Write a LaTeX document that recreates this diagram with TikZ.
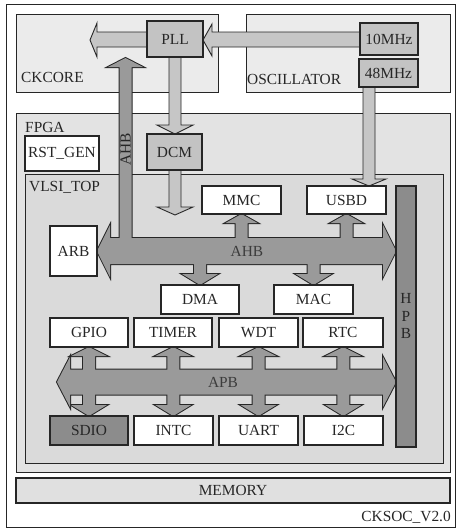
\documentclass[tikz,border=0pt]{standalone}
\usepackage{fontspec}
\setmainfont{Liberation Serif}
\definecolor{linec}{HTML}{262626}
\definecolor{textc}{HTML}{262626}
\definecolor{ckfill}{HTML}{EBEBEB}
\definecolor{fpgafill}{HTML}{E3E3E3}
\definecolor{vlsifill}{HTML}{DADADA}
\definecolor{memfill}{HTML}{E0E0E0}
\definecolor{midgray}{HTML}{C3C3C3}
\definecolor{arrowgray}{HTML}{C6C6C6}
\definecolor{busgray}{HTML}{9A9A9A}
\definecolor{darkbox}{HTML}{8C8C8C}
\newcommand\bx[7]{\node[#2, minimum width={(#5)-(#3)}, minimum height={(#6)-(#4)}] (#1) at ({((#3)+(#5))/2},{((#4)+(#6))/2}) {#7};}
\newcommand\ahbshape[1]{%
  \path[#1] (97,251) -- (110,225) -- (110,238) -- (383,238) -- (383,225) -- (396,251) -- (383,277) -- (383,264) -- (110,264) -- (110,277) -- cycle;
  \path[#1] (125.5,58) -- (143,67) -- (131.5,67) -- (131.5,251) -- (119.5,251) -- (119.5,67) -- (108,67) -- cycle;
  \foreach \c in {241.5,346.5}{%
    \path[#1] (\c,214) -- ({\c+16},223) -- ({\c+6},223) -- ({\c+6},251) -- ({\c-6},251) -- ({\c-6},223) -- ({\c-16},223) -- cycle;}
  \foreach \c in {200,313.5}{%
    \path[#1] (\c,285) -- ({\c+18},274) -- ({\c+6},274) -- ({\c+6},251) -- ({\c-6},251) -- ({\c-6},274) -- ({\c-18},274) -- cycle;}
}
\newcommand\apbshape[1]{%
  \path[#1] (57,382) -- (70,357) -- (70,369.5) -- (383,369.5) -- (383,357) -- (396,382) -- (383,407) -- (383,394.5) -- (70,394.5) -- (70,407) -- cycle;
  \foreach \c in {89,173.25,258.5,343.25}{%
    \path[#1] (\c,347) -- ({\c+18},356) -- ({\c+6},356) -- ({\c+6},382) -- ({\c-6},382) -- ({\c-6},356) -- ({\c-18},356) -- cycle;
    \path[#1] (\c,416) -- ({\c+18},405) -- ({\c+6},405) -- ({\c+6},382) -- ({\c-6},382) -- ({\c-6},405) -- ({\c-18},405) -- cycle;}
}
\begin{document}
\begin{tikzpicture}[x=1pt,y=-1pt,
  every node/.style={font=\fontsize{15.4}{18}\selectfont, text=textc},
  cont/.style={draw=linec, line width=1pt},
  box/.style={draw=linec, line width=1.1pt, fill=white, inner sep=0pt},
  gbox/.style={box, fill=midgray},
  dbox/.style={box, fill=darkbox},
  mbox/.style={box, fill=memfill},
  lbl/.style={anchor=west, inner sep=0pt},
  larrow/.style={draw=linec, line width=0.9pt, fill=arrowgray, line join=miter},
  busline/.style={draw=linec, line width=2pt, line join=miter},
  busfill/.style={fill=busgray}]
\useasboundingbox (0,0) rectangle (456,528);
\draw[cont, fill=white] (6,4) rectangle (455,527);
% containers
\draw[cont, fill=ckfill] (16,14) rectangle (218,92);
\node[lbl] (ckl) at (21,77) {CKCORE};
\draw[cont, fill=ckfill] (246,14) rectangle (450,92);
\node[lbl] (oscl) at (247,79) {OSCILLATOR};
\draw[cont, fill=fpgafill] (16,113) rectangle (450,472);
\node[lbl] (fpgal) at (25,127) {FPGA};
\draw[cont, fill=vlsifill] (25,174) rectangle (443,463);
\node[lbl] (vlsil) at (29,187) {VLSI\_TOP};
% light arrows
\draw[larrow] (147,32) -- (97,32) -- (97,23) -- (90,40) -- (97,57) -- (97,47) -- (147,47) -- cycle;
\draw[larrow] (360,32) -- (212,32) -- (212,24) -- (203,40) -- (212,56) -- (212,47) -- (360,47) -- cycle;
\draw[larrow] (169,57) -- (169,125) -- (157,125) -- (175,134) -- (193,125) -- (181,125) -- (181,57) -- cycle;
\draw[larrow] (169,170) -- (169,207) -- (157,207) -- (175,215) -- (193,207) -- (181,207) -- (181,170) -- cycle;
\draw[larrow] (363,87) -- (363,179) -- (352,179) -- (369,186) -- (386,179) -- (375,179) -- (375,87) -- cycle;
% dark buses
\ahbshape{busline}
\ahbshape{busfill}
\apbshape{busline}
\apbshape{busfill}
\node[text=textc!90] (ahbl) at (247,251) {AHB};
\node[text=textc!90] (apbl) at (223,382) {APB};
\node[rotate=90, inner sep=0pt] (ahbv) at (125.5,149) {AHB};
% boxes
\bx{pll}{gbox}{147}{21}{203}{57}{PLL}
\bx{m10}{gbox}{360}{23}{418}{55}{10MHz}
\bx{m48}{gbox}{359}{59}{418}{87}{48MHz}
\bx{rst}{box}{25}{136}{99}{171}{RST\_GEN}
\bx{dcm}{gbox}{147}{134}{202}{170}{DCM}
\bx{mmc}{box}{202}{186}{281}{214}{MMC}
\bx{usbd}{box}{307}{186}{386}{214}{USBD}
\bx{arb}{box}{50}{226}{97}{276}{ARB}
\bx{dma}{box}{161}{285}{239}{314}{DMA}
\bx{mac}{box}{274}{285}{353}{314}{MAC}
\bx{gpio}{box}{50}{318}{128}{347}{GPIO}
\bx{timer}{box}{134}{318}{212}{347}{TIMER}
\bx{wdt}{box}{219}{318}{298}{347}{WDT}
\bx{rtc}{box}{303}{318}{383}{347}{RTC}
\bx{sdio}{dbox}{50}{416}{128}{445}{SDIO}
\bx{intc}{box}{134}{416}{213}{445}{INTC}
\bx{uart}{box}{219}{416}{298}{445}{UART}
\bx{i2c}{box}{304}{416}{383}{445}{I2C}
\bx{hpb}{dbox}{396}{186}{416}{447}{}
\node (h1) at (406,298) {H};
\node (h2) at (406,316) {P};
\node (h3) at (406,333) {B};
\bx{mem}{mbox}{16}{478}{450}{503}{MEMORY}
\node[anchor=east, inner sep=0pt] (ver) at (451,517) {CKSOC\_V2.0};
\end{tikzpicture}
\end{document}
